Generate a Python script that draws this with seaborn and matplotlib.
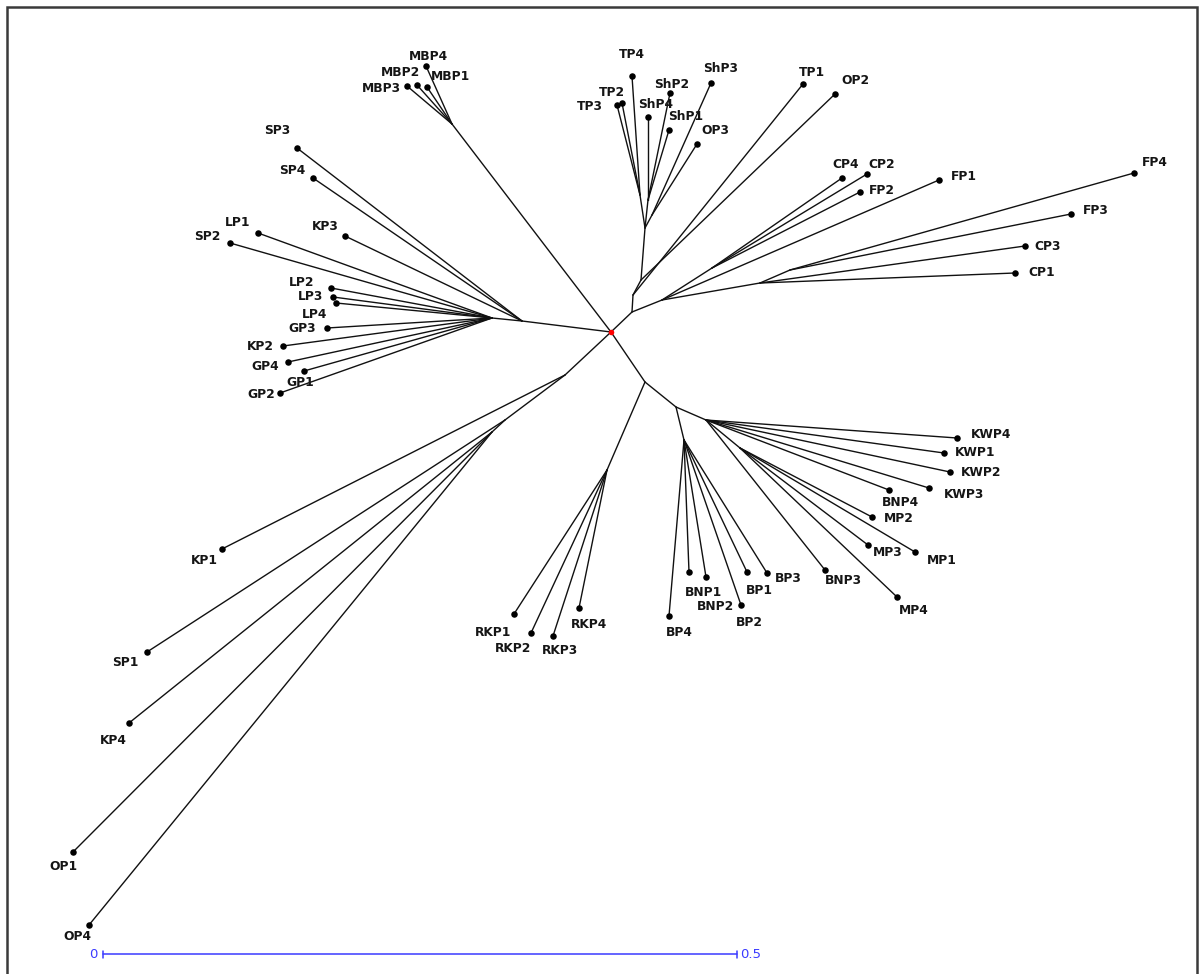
import matplotlib
matplotlib.use("Agg")
import matplotlib.pyplot as plt
import pandas as pd
import seaborn as sns

# ---------------------------------------------------------------------------
# Unrooted tree: internal nodes and tips placed on the drawing plane
# (x to the right, y downward; 1268 plane units = 1 branch-length unit)
# ---------------------------------------------------------------------------
node_names = ["root", "n_mbp", "n_left", "n_left2", "n_up", "n_ts", "n_ts2",
              "n_ts3", "n_tp", "n_sh", "n_os", "n_fc", "n_c24", "n_c13",
              "n_f34", "n_ll1", "n_ll2", "n_ll3", "n_lr0", "n_rk", "n_lr1",
              "n_bp", "n_kw", "n_mp"]
node_x = [611, 452, 522, 492, 632, 633, 641, 645, 640, 648, 652, 662, 712,
          760, 790, 565, 505, 492, 645, 607, 676, 684, 706, 740]
node_y = [332, 124, 321, 318, 312, 295, 280, 228, 195, 200, 215, 300, 268,
          283, 270, 375, 420, 432, 382, 470, 407, 440, 420, 448]
node_parent = [None, "root", "root", "n_left", "root", "n_up", "n_ts",
               "n_ts2", "n_ts3", "n_ts3", "n_ts3", "n_up", "n_fc", "n_fc",
               "n_c13", "root", "n_ll1", "n_ll2", "root", "n_lr0", "n_lr0",
               "n_lr1", "n_lr1", "n_kw"]

tip_names = ["MBP4", "MBP2", "MBP1", "MBP3",
             "SP3", "SP4", "KP3",
             "LP1", "SP2", "LP2", "LP3", "LP4", "GP3", "KP2", "GP4", "GP1", "GP2",
             "KP1", "SP1", "KP4", "OP1", "OP4",
             "RKP1", "RKP2", "RKP3", "RKP4",
             "BP4", "BNP1", "BNP2", "BP2", "BP1", "BP3",
             "BNP3", "BNP4", "KWP4", "KWP1", "KWP2", "KWP3",
             "MP2", "MP3", "MP1", "MP4",
             "CP1", "CP3", "FP3", "FP4", "FP1", "FP2", "CP2", "CP4",
             "TP1", "OP2", "OP3", "ShP3", "ShP2", "ShP1", "ShP4",
             "TP4", "TP2", "TP3"]
tip_x = [426, 417, 427, 407,
         297, 313, 345,
         258, 230, 331, 333, 336, 327, 283, 288, 304, 280,
         222, 147, 129, 73, 89,
         514, 531, 553, 579,
         669, 689, 706, 741, 747, 767,
         825, 889, 957, 944, 950, 929,
         872, 868, 915, 897,
         1015, 1025, 1071, 1134, 939, 860, 867, 842,
         803, 835, 697, 711, 670, 669, 648,
         632, 622, 617]
tip_y = [66, 85, 87, 86,
         148, 178, 236,
         233, 243, 288, 297, 303, 328, 346, 362, 371, 393,
         549, 652, 723, 852, 925,
         614, 633, 636, 608,
         616, 572, 577, 605, 572, 573,
         570, 490, 438, 453, 472, 488,
         517, 545, 552, 597,
         273, 246, 214, 173, 180, 192, 174, 178,
         84, 94, 144, 83, 93, 130, 117,
         76, 103, 105]
tip_parent = ["n_mbp"] * 4 + ["n_left"] * 3 + ["n_left2"] * 10 + \
             ["n_ll1", "n_ll2", "n_ll3", "n_ll3", "n_ll3"] + ["n_rk"] * 4 + \
             ["n_bp"] * 6 + ["n_kw"] * 6 + ["n_mp"] * 4 + \
             ["n_c13", "n_c13", "n_f34", "n_f34", "n_fc", "n_c24", "n_c24", "n_c24"] + \
             ["n_ts", "n_ts2", "n_os", "n_os", "n_sh", "n_sh", "n_sh"] + ["n_tp"] * 3

scale_bar_value = 0.5
plane_units_per_branch_unit = 1268

# label nudges (plane units) relative to each tip
label_nudge = {
    "MBP4": (2, -10), "MBP2": (-16, -12), "MBP1": (24, -11), "MBP3": (-26, 2),
    "SP3": (-20, -18), "SP4": (-21, -8), "KP3": (-20, -9),
    "LP1": (-20, -10), "SP2": (-23, -7), "LP2": (-29, -6), "LP3": (-22, 0),
    "LP4": (-21, 11), "GP3": (-25, 1), "KP2": (-23, 1), "GP4": (-23, 5),
    "GP1": (-4, 11), "GP2": (-19, 2),
    "KP1": (-18, 11), "SP1": (-22, 10), "KP4": (-16, 17), "OP1": (-10, 15),
    "OP4": (-12, 11),
    "RKP1": (-21, 18), "RKP2": (-18, 16), "RKP3": (7, 15), "RKP4": (10, 16),
    "BP4": (10, 17), "BNP1": (15, 21), "BNP2": (10, 30), "BP2": (8, 18),
    "BP1": (12, 18), "BP3": (21, 6),
    "BNP3": (18, 11), "BNP4": (11, 12), "KWP4": (34, -3), "KWP1": (31, 0),
    "KWP2": (31, 0), "KWP3": (35, 6),
    "MP2": (27, 1), "MP3": (20, 7), "MP1": (27, 9), "MP4": (17, 13),
    "CP1": (27, -1), "CP3": (23, 1), "FP3": (25, -4), "FP4": (21, -11),
    "FP1": (25, -3), "FP2": (22, -1), "CP2": (15, -10), "CP4": (4, -14),
    "TP1": (9, -12), "OP2": (20, -13), "OP3": (18, -14), "ShP3": (10, -15),
    "ShP2": (2, -8), "ShP1": (17, -13), "ShP4": (8, -12),
    "TP4": (0, -21), "TP2": (-10, -10), "TP3": (-27, 2),
}

# ---------------------------------------------------------------------------
# Build edge table (one segment per child -> parent)
# ---------------------------------------------------------------------------
pos = {n: (x, y) for n, x, y in zip(node_names, node_x, node_y)}
pos.update({n: (x, y) for n, x, y in zip(tip_names, tip_x, tip_y)})

rows = []
children = list(zip(node_names, node_parent)) + list(zip(tip_names, tip_parent))
for seg, (child, parent) in enumerate(c for c in children if c[1] is not None):
    for end, name in enumerate((parent, child)):
        x, y = pos[name]
        rows.append({"seg": seg, "end": end, "x": x, "y": y})
edges = pd.DataFrame(rows)
tips = pd.DataFrame({"name": tip_names, "x": tip_x, "y": tip_y})

# ---------------------------------------------------------------------------
# Draw
# ---------------------------------------------------------------------------
sns.set_theme(style="white")
plt.rcParams["font.family"] = ["DejaVu Sans"]

fig = plt.figure(figsize=(12, 9.74), dpi=100)
ax = fig.add_axes([0, 0, 1, 1])

sns.lineplot(data=edges, x="x", y="y", units="seg", estimator=None,
             sort=False, color="#111111", linewidth=1.0, ax=ax, legend=False)
sns.scatterplot(data=tips, x="x", y="y", color="black", s=22,
                linewidth=0, ax=ax, legend=False, zorder=3)
sns.scatterplot(x=[pos["root"][0]], y=[pos["root"][1]], color="red", s=16,
                linewidth=0, ax=ax, legend=False, zorder=4)

for name, x, y in zip(tip_names, tip_x, tip_y):
    dx, dy = label_nudge[name]
    ax.text(x + dx, y + dy, name, ha="center", va="center", fontsize=8.8,
            fontweight="bold", color="#151515")

# frame around the tree panel
ax.plot([7, 7, 1197, 1197], [980, 7, 7, 980], color="#3a3a3a", lw=1.8,
        solid_joinstyle="miter")

# scale bar
blue = "#3b3bff"
bar_x0, bar_y = 103, 954
bar_x1 = bar_x0 + scale_bar_value * plane_units_per_branch_unit
ax.plot([bar_x0, bar_x1], [bar_y, bar_y], color=blue, lw=1.1)
for bx in (bar_x0, bar_x1):
    ax.plot([bx, bx], [bar_y - 3.5, bar_y + 3.5], color=blue, lw=1.1)
ax.text(bar_x0 - 6, bar_y, "0", ha="right", va="center", color=blue, fontsize=9.5)
ax.text(bar_x1 + 3, bar_y, f"{scale_bar_value}", ha="left", va="center",
        color=blue, fontsize=9.5)

ax.set_xlim(0, 1200)
ax.set_ylim(974, 0)
ax.axis("off")

fig.savefig("out.png", dpi=100, facecolor="white")
